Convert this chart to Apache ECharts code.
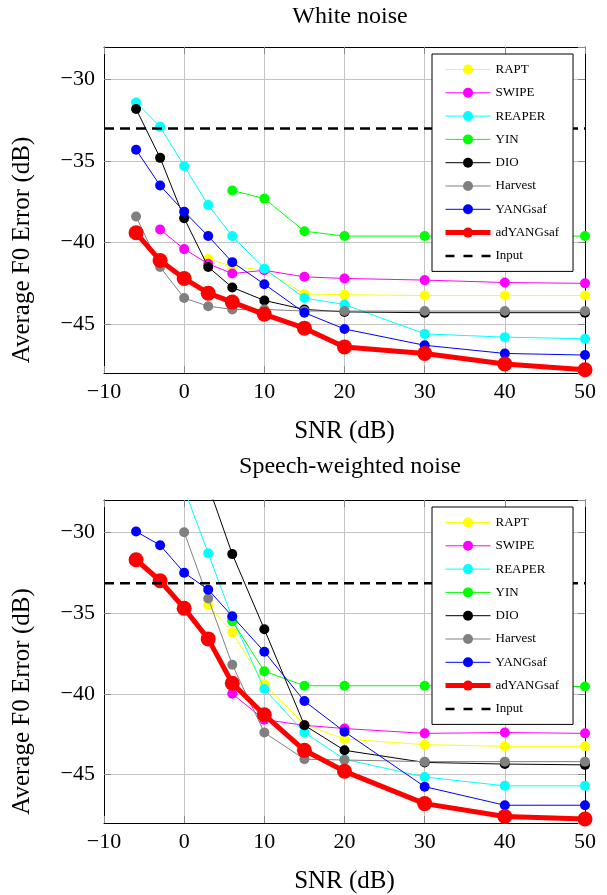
<!DOCTYPE html>
<html>
<head>
<meta charset="utf-8">
<script src="https://cdn.jsdelivr.net/npm/echarts@6/dist/echarts.min.js"></script>
<style>
  html, body { margin: 0; padding: 0; background: #fff; }
  #chart { width: 607px; height: 895px; }
</style>
</head>
<body>
<div id="chart"></div>
<script>
// SNR values (dB) shared by both panels
const snr = [-6, -3, 0, 3, 6, 10, 15, 20, 30, 40, 50];
const names = ['RAPT', 'SWIPE', 'REAPER', 'YIN', 'DIO', 'Harvest', 'YANGsaf', 'adYANGsaf'];
const colors = ['#ffff00', '#ff00ff', '#00ffff', '#00ff00', '#000000', '#808080', '#0000ff', '#ff0000'];

// White noise panel
const whiteRapt = [null, null, null, -41.0, -41.45, -41.7, -43.15, -43.2, -43.25, -43.25, -43.25];
const whiteSwipe = [null, -39.2, -40.4, -41.3, -41.9, -41.7, -42.1, -42.2, -42.3, -42.45, -42.5];
const whiteReaper = [-31.4, -32.9, -35.3, -37.7, -39.6, -41.6, -43.4, -43.8, -45.6, -45.8, -45.9];
const whiteYin = [null, null, null, null, -36.8, -37.3, -39.3, -39.6, -39.6, -39.6, -39.6];
const whiteDio = [-31.8, -34.8, -38.5, -41.5, -42.75, -43.55, -44.1, -44.25, -44.3, -44.3, -44.3];
const whiteHarvest = [-38.4, -41.5, -43.4, -43.9, -44.1, -44.1, -44.2, -44.2, -44.2, -44.2, -44.2];
const whiteYang = [-34.3, -36.5, -38.1, -39.6, -41.2, -42.55, -44.3, -45.3, -46.3, -46.8, -46.9];
const whiteAdYang = [-39.4, -41.1, -42.2, -43.1, -43.65, -44.4, -45.25, -46.4, -46.8, -47.45, -47.8];
const whiteInput = -33.0;

// Speech-weighted noise panel
const speechRapt = [null, null, null, -34.5, -36.2, -39.4, -41.9, -42.8, -43.15, -43.25, -43.25];
const speechSwipe = [null, null, null, null, -40.0, -41.6, -41.95, -42.15, -42.45, -42.4, -42.45];
const speechReaper = [null, null, -27.3, -31.3, -35.3, -39.7, -42.4, -44.05, -45.15, -45.7, -45.7];
const speechYin = [null, null, null, null, -35.5, -38.6, -39.5, -39.5, -39.5, -39.5, -39.55];
const speechDio = [null, null, null, -27.1, -31.35, -36.0, -41.95, -43.5, -44.25, -44.35, -44.4];
const speechHarvest = [null, null, -30.0, -34.1, -38.2, -42.4, -44.05, -44.1, -44.2, -44.2, -44.2];
const speechYang = [-29.95, -30.8, -32.5, -33.55, -35.2, -37.4, -40.45, -42.35, -45.75, -46.9, -46.9];
const speechAdYang = [-31.7, -33.0, -34.7, -36.6, -39.35, -41.3, -43.5, -44.8, -46.8, -47.6, -47.75];
const speechInput = -33.15;

const xTicks = { min: -10, max: 50, interval: 10 };
const yRange = { min: -48, max: -28 };

const FONT = 'Liberation Serif';
const minus = (v) => String(v).replace('-', '\u2212');

const dashIcon = 'path://M0,0 H9 V2.5 H0 Z M18,0 H27 V2.5 H18 Z M36,0 H45 V2.5 H36 Z';

const panels = [
  { title: 'White noise', titleTop: 0, top: 47, height: 326, input: whiteInput,
    data: [whiteRapt, whiteSwipe, whiteReaper, whiteYin, whiteDio, whiteHarvest, whiteYang, whiteAdYang] },
  { title: 'Speech-weighted noise', titleTop: 450, top: 500, height: 327, input: speechInput,
    data: [speechRapt, speechSwipe, speechReaper, speechYin, speechDio, speechHarvest, speechYang, speechAdYang] },
];

const grid = [];
const xAxis = [];
const yAxis = [];
const series = [];
const title = [];
const legend = [];

panels.forEach((p, k) => {
  grid.push({ left: 104, right: 22, top: p.top, height: p.height, show: false });
  title.push({
    text: p.title,
    left: 345,
    top: p.titleTop,
    textAlign: 'center',
    textStyle: { fontFamily: FONT, fontSize: 24, fontWeight: 'normal', color: '#000' },
  });
  const tickStyle = { show: true, inside: true, length: 7, lineStyle: { color: '#888', width: 1 } };
  xAxis.push({
    type: 'value', gridIndex: k, position: 'bottom', ...xTicks,
    name: 'SNR (dB)', nameLocation: 'middle', nameGap: 46,
    nameTextStyle: { fontFamily: FONT, fontSize: 25, color: '#000' },
    axisLine: { onZero: false, lineStyle: { color: '#000', width: 1 } },
    axisTick: tickStyle,
    axisLabel: { fontFamily: FONT, fontSize: 22, color: '#000', margin: 8, formatter: minus },
    splitLine: { show: true, lineStyle: { color: '#c4c4c4', width: 1 } },
  });
  xAxis.push({
    type: 'value', gridIndex: k, position: 'top', ...xTicks,
    axisLine: { onZero: false, lineStyle: { color: '#000', width: 1 } },
    axisTick: tickStyle, axisLabel: { show: false }, splitLine: { show: false },
  });
  yAxis.push({
    type: 'value', gridIndex: k, position: 'left', ...yRange, splitNumber: 4,
    name: 'Average F0 Error (dB)', nameLocation: 'middle', nameGap: 69,
    nameTextStyle: { fontFamily: FONT, fontSize: 25, color: '#000', padding: [0, 80, 0, 0] },
    axisLine: { onZero: false, lineStyle: { color: '#000', width: 1 } },
    axisTick: tickStyle,
    axisLabel: { fontFamily: FONT, fontSize: 22, color: '#000', margin: 9,
      showMinLabel: false, showMaxLabel: false, formatter: minus },
    splitLine: { show: true, lineStyle: { color: '#c4c4c4', width: 1 } },
  });
  yAxis.push({
    type: 'value', gridIndex: k, position: 'right', ...yRange, splitNumber: 4,
    axisLine: { onZero: false, lineStyle: { color: '#000', width: 1 } },
    axisTick: tickStyle, axisLabel: { show: false }, splitLine: { show: false },
  });

  names.forEach((name, i) => {
    const bold = name === 'adYANGsaf';
    series.push({
      name, type: 'line', xAxisIndex: 2 * k, yAxisIndex: 2 * k,
      z: 3 + i, clip: true,
      data: snr.map((x, j) => [x, p.data[i][j]]).filter((d) => d[1] !== null),
      symbol: 'circle', symbolSize: bold ? 15 : 10,
      lineStyle: { color: colors[i], width: bold ? 5 : 1 },
      itemStyle: { color: colors[i] },
      emphasis: { disabled: true },
      animation: false,
    });
  });
  series.push({
    name: 'Input', type: 'line', xAxisIndex: 2 * k, yAxisIndex: 2 * k, z: 12,
    data: [[xTicks.min, p.input], [xTicks.max, p.input]],
    symbol: 'none',
    lineStyle: { color: '#000', width: 2.5, type: [10, 6] },
    itemStyle: { color: '#000' },
    emphasis: { disabled: true },
    animation: false,
  });

  // legend box sits above every series, like the reference
  legend.push({
    z: 30,
    data: names.map((n) => (n === 'adYANGsaf' ? { name: n, lineStyle: { width: 5 } } : { name: n }))
      .concat([{ name: 'Input', icon: dashIcon }]),
    orient: 'vertical',
    left: 432, top: p.top + 7,
    itemWidth: 45, itemHeight: 12.5, itemGap: 10.3,
    padding: [9, 14, 9, 11],
    lineStyle: { width: 1 },
    backgroundColor: '#fff', borderColor: '#000', borderWidth: 1, borderRadius: 0,
    selectedMode: false,
    textStyle: { fontFamily: FONT, fontSize: 13, color: '#000' },
  });
});

const chart = echarts.init(document.getElementById('chart'), null, { renderer: 'canvas' });
chart.setOption({
  backgroundColor: '#fff',
  animation: false,
  title, grid, xAxis, yAxis, legend, series,
});
</script>
</body>
</html>
